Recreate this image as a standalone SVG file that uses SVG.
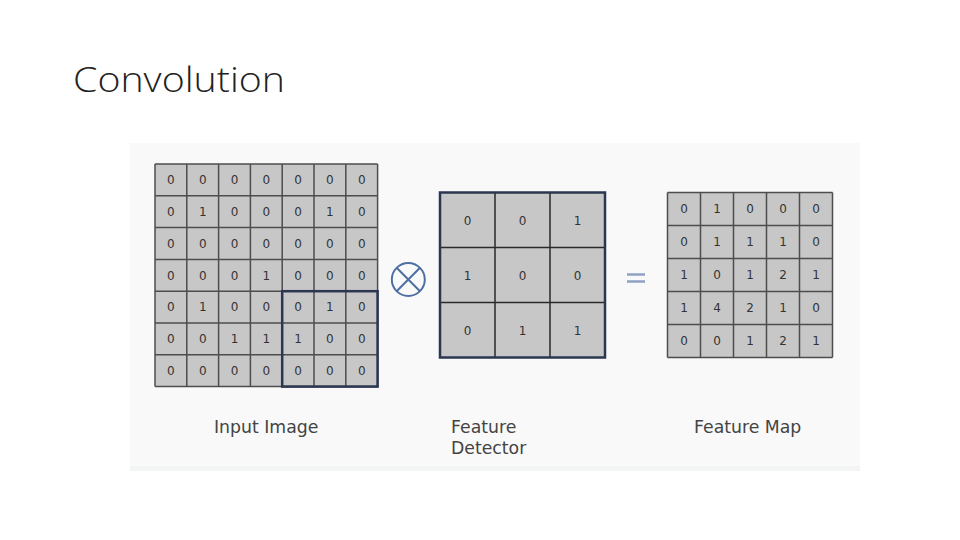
<svg xmlns="http://www.w3.org/2000/svg" width="960" height="540" viewBox="0 0 960 540">
<style>
.t{font-family:"DejaVu Sans","Liberation Sans",sans-serif;font-size:12px;fill:#333;text-anchor:middle}
.lbl{font-family:"DejaVu Sans","Liberation Sans",sans-serif;font-size:17.3px;fill:#444}
.cell{fill:#c7c7c7}
.grid{fill:none;stroke:#4d4d4d;stroke-width:1.5}
.hl{fill:none;stroke:#2b3650;stroke-width:2.5}
</style>
<rect width="960" height="540" fill="#ffffff"/>
<text x="73" y="92" font-family="Open Sans, Noto Sans, sans-serif" font-weight="300" font-size="35" fill="#222" textLength="212" lengthAdjust="spacingAndGlyphs">Convolution</text>
<rect x="130" y="143" width="730" height="328" fill="#f9f9f9"/>
<rect x="130" y="466" width="730" height="5" fill="#f3f5f5"/>

<g id="input-image">
<rect class="cell" x="155" y="164" width="222.6" height="222.6"/>
<path class="grid" d="M155 164V386.6M186.8 164V386.6M218.6 164V386.6M250.4 164V386.6M282.2 164V386.6M314 164V386.6M345.8 164V386.6M377.6 164V386.6M155 164H377.6M155 195.8H377.6M155 227.6H377.6M155 259.4H377.6M155 291.2H377.6M155 323H377.6M155 354.8H377.6M155 386.6H377.6"/>
<rect class="hl" x="282.2" y="291.2" width="95.4" height="95.4"/>
<text class="t" x="170.9" y="184.2">0</text><text class="t" x="202.7" y="184.2">0</text><text class="t" x="234.5" y="184.2">0</text><text class="t" x="266.3" y="184.2">0</text><text class="t" x="298.1" y="184.2">0</text><text class="t" x="329.9" y="184.2">0</text><text class="t" x="361.7" y="184.2">0</text>
<text class="t" x="170.9" y="216">0</text><text class="t" x="202.7" y="216">1</text><text class="t" x="234.5" y="216">0</text><text class="t" x="266.3" y="216">0</text><text class="t" x="298.1" y="216">0</text><text class="t" x="329.9" y="216">1</text><text class="t" x="361.7" y="216">0</text>
<text class="t" x="170.9" y="247.8">0</text><text class="t" x="202.7" y="247.8">0</text><text class="t" x="234.5" y="247.8">0</text><text class="t" x="266.3" y="247.8">0</text><text class="t" x="298.1" y="247.8">0</text><text class="t" x="329.9" y="247.8">0</text><text class="t" x="361.7" y="247.8">0</text>
<text class="t" x="170.9" y="279.6">0</text><text class="t" x="202.7" y="279.6">0</text><text class="t" x="234.5" y="279.6">0</text><text class="t" x="266.3" y="279.6">1</text><text class="t" x="298.1" y="279.6">0</text><text class="t" x="329.9" y="279.6">0</text><text class="t" x="361.7" y="279.6">0</text>
<text class="t" x="170.9" y="311.4">0</text><text class="t" x="202.7" y="311.4">1</text><text class="t" x="234.5" y="311.4">0</text><text class="t" x="266.3" y="311.4">0</text><text class="t" x="298.1" y="311.4">0</text><text class="t" x="329.9" y="311.4">1</text><text class="t" x="361.7" y="311.4">0</text>
<text class="t" x="170.9" y="343.2">0</text><text class="t" x="202.7" y="343.2">0</text><text class="t" x="234.5" y="343.2">1</text><text class="t" x="266.3" y="343.2">1</text><text class="t" x="298.1" y="343.2">1</text><text class="t" x="329.9" y="343.2">0</text><text class="t" x="361.7" y="343.2">0</text>
<text class="t" x="170.9" y="375">0</text><text class="t" x="202.7" y="375">0</text><text class="t" x="234.5" y="375">0</text><text class="t" x="266.3" y="375">0</text><text class="t" x="298.1" y="375">0</text><text class="t" x="329.9" y="375">0</text><text class="t" x="361.7" y="375">0</text>
<text class="lbl" x="214" y="433">Input Image</text>
</g>

<g id="convolve-op">
<circle cx="408.3" cy="279.5" r="16.5" fill="none" stroke="#4f6fa3" stroke-width="2"/>
<path d="M396.6 267.8L420 291.2M420 267.8L396.6 291.2" stroke="#4f6fa3" stroke-width="2"/>
</g>

<g id="feature-detector">
<rect class="cell" x="440" y="192.5" width="165" height="165"/>
<path d="M495 192.5V357.5M550 192.5V357.5M440 247.5H605M440 302.5H605" stroke="#2a2a2a" stroke-width="1.5"/>
<rect x="440" y="192.5" width="165" height="165" fill="none" stroke="#2b3650" stroke-width="2.5"/>
<text class="t" x="467.5" y="224.5">0</text><text class="t" x="522.5" y="224.5">0</text><text class="t" x="577.5" y="224.5">1</text>
<text class="t" x="467.5" y="279.5">1</text><text class="t" x="522.5" y="279.5">0</text><text class="t" x="577.5" y="279.5">0</text>
<text class="t" x="467.5" y="334.5">0</text><text class="t" x="522.5" y="334.5">1</text><text class="t" x="577.5" y="334.5">1</text>
<text class="lbl"><tspan x="451" y="433">Feature</tspan><tspan x="451" y="454">Detector</tspan></text>
</g>

<g id="equals-op">
<path d="M627 274.5H645M627 281.5H645" stroke="#8ea2c2" stroke-width="2.5"/>
</g>

<g id="feature-map">
<rect class="cell" x="667.5" y="192.5" width="165" height="165"/>
<path class="grid" d="M667.5 192.5V357.5M700.5 192.5V357.5M733.5 192.5V357.5M766.5 192.5V357.5M799.5 192.5V357.5M832.5 192.5V357.5M667.5 192.5H832.5M667.5 225.5H832.5M667.5 258.5H832.5M667.5 291.5H832.5M667.5 324.5H832.5M667.5 357.5H832.5"/>
<text class="t" x="684" y="213.3">0</text><text class="t" x="717" y="213.3">1</text><text class="t" x="750" y="213.3">0</text><text class="t" x="783" y="213.3">0</text><text class="t" x="816" y="213.3">0</text>
<text class="t" x="684" y="246.3">0</text><text class="t" x="717" y="246.3">1</text><text class="t" x="750" y="246.3">1</text><text class="t" x="783" y="246.3">1</text><text class="t" x="816" y="246.3">0</text>
<text class="t" x="684" y="279.3">1</text><text class="t" x="717" y="279.3">0</text><text class="t" x="750" y="279.3">1</text><text class="t" x="783" y="279.3">2</text><text class="t" x="816" y="279.3">1</text>
<text class="t" x="684" y="312.3">1</text><text class="t" x="717" y="312.3">4</text><text class="t" x="750" y="312.3">2</text><text class="t" x="783" y="312.3">1</text><text class="t" x="816" y="312.3">0</text>
<text class="t" x="684" y="345.3">0</text><text class="t" x="717" y="345.3">0</text><text class="t" x="750" y="345.3">1</text><text class="t" x="783" y="345.3">2</text><text class="t" x="816" y="345.3">1</text>
<text class="lbl" x="694" y="433">Feature Map</text>
</g>
</svg>
